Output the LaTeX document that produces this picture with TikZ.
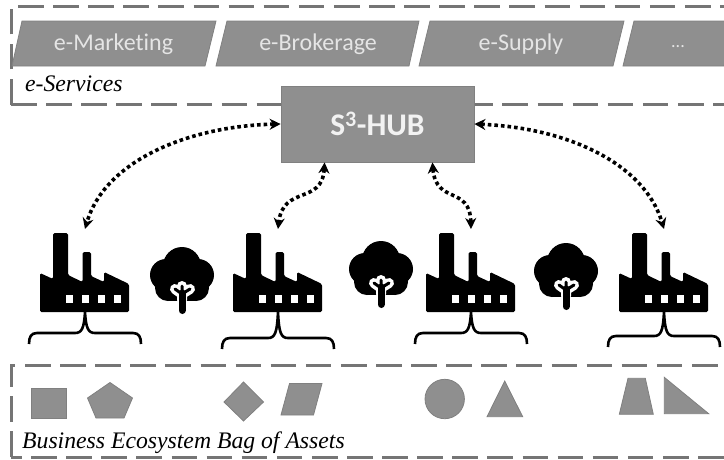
\documentclass[tikz,border=0pt]{standalone}
\usepackage{fontspec}
\setsansfont[Ligatures=NoCommon]{Carlito}
\setmainfont{Liberation Serif}
\usepackage{xcolor}
\usetikzlibrary{arrows.meta,positioning}
\definecolor{assetgray}{HTML}{8F8F8F}
\definecolor{edgegray}{HTML}{808080}
\definecolor{dashgray}{HTML}{757575}

\tikzset{
  pics/factory/.style={code={
    \fill[black, rounded corners=1.5pt] (-45,0) -- (-45,-39) -- (-32,-33) -- (-32,-79)
      -- (-17,-79) -- (-17,-37) -- (-2.5,-30) -- (-2.5,-60) -- (6,-60) -- (6,-36)
      -- (19,-30) -- (19,-40) -- (44,-28) -- (44,0) -- cycle;
    \foreach \wx in {-16,0,16,32.5}
      \fill[white] (\wx-3.5,-17.5) rectangle (\wx+3.5,-9.5);
    \coordinate (-top) at (0,-83);
    \coordinate (-base) at (0,0);
  }},
  pics/tree/.style={code={
    \fill[black] (0,-48) circle (19) (-16,-39) circle (16) (16,-39) circle (16)
      (-14,-26) circle (13) (14,-26) circle (13);
    \fill[black] (-15,-40) rectangle (15,-13);
    \draw[white, line width=10pt, line cap=round, line join=round]
      (0,-14) -- (0,-20) (-7,-25) -- (0,-20) -- (8,-25) (0,-20) -- (0,-28);
    \draw[black, line width=3pt, line cap=round, line join=round]
      (-7,-25) -- (0,-20) -- (8,-25) (0,-20) -- (0,-28);
    \draw[black, line width=7pt, line cap=round] (0,-3.5) -- (0,-21);
  }},
}

\begin{document}
\begin{tikzpicture}[
  x=1pt, y=-1pt,
  service/.style={draw=edgegray, fill=assetgray, line width=0.8pt},
  servicetext/.style={font=\sffamily\fontsize{24}{26}\selectfont, text=white!90!black, inner sep=0pt},
  region/.style={dashgray, line width=3pt, dash pattern=on 25.6pt off 9.5pt},
  caption/.style={font=\itshape\fontsize{23.7}{26}\selectfont, anchor=base west, inner sep=0pt},
  hub/.style={draw=edgegray, fill=assetgray, line width=0.8pt, minimum width=193pt,
              minimum height=76pt, inner sep=0pt, font=\sffamily\bfseries\fontsize{31.5}{33}\selectfont,
              text=white!95!black},
  link/.style={{Stealth[length=11pt,width=11pt]}-{Stealth[length=11pt,width=11pt]}, black,
               line width=3.6pt, dash pattern=on 3.6pt off 3pt},
  bracket/.style={black, line width=2.6pt},
  asset/.style={draw=edgegray, fill=assetgray, line width=0.8pt},
]
\useasboundingbox (0,0) rectangle (724,459);

% === e-Services region ===
\draw[region] (11,104.5) -- (11,9);
\draw[region] (18,6.5) -- (740,6.5);
\draw[region] (11,104.5) -- (740,104.5);

\draw[service] (22,21) -- (216,21) -- (205,66) -- (12,66) -- cycle;
\draw[service] (227,21) -- (419,21) -- (409,66) -- (216,66) -- cycle;
\draw[service] (430,21) -- (624,21) -- (613,66) -- (419,66) -- cycle;
\draw[service] (634,21) -- (735,21) -- (724,66) -- (623,66) -- cycle;
\node[servicetext] (marketing) at (113.5,44) {e-Marketing};
\node[servicetext] (brokerage) at (318,44) {e-Brokerage};
\node[servicetext] (supply) at (521,44) {e-Supply};
\node[servicetext, font=\sffamily\fontsize{18}{20}\selectfont] (more) at (678,47) {...};
\node[caption] (services) at (25,91) {e-Services};

% === Hub ===
\node[hub] (s3hub) at (377.5,124) {S\textsuperscript{3}-HUB};

% === Factories and trees ===
\foreach \name/\fx/\dy in {fac1/85/21, fac2/278/26, fac3/471/21, fac4/664/24} {
  \pic (\name) at (\fx,312) {factory};
  \draw[bracket, shift={(\fx,312)}] (-56,\dy+11) .. controls (-56,\dy+4) and (-54,\dy) .. (-48,\dy)
    -- (-10,\dy) .. controls (-3,\dy) and (-1,\dy-5) .. (0,0)
    .. controls (1,\dy-5) and (3,\dy) .. (10,\dy)
    -- (48,\dy) .. controls (54,\dy) and (56,\dy+4) .. (56,\dy+11);
}
\pic (tree1) at (182,314) {tree};
\pic (tree2) at (381,308) {tree};
\pic (tree3) at (566,310) {tree};

% === Links between hub and factories ===
\draw[link] (s3hub.west) .. controls (190,126) and (105,160) .. (fac1-top);
\draw[link] (s3hub.south west) ++(44,0) .. controls (322,205) and (283,185) .. (fac2-top);
\draw[link] (s3hub.south east) ++(-42,0) .. controls (436,205) and (470,185) .. (fac3-top);
\draw[link] (s3hub.east) .. controls (570,128) and (645,165) .. (fac4-top);

% === Business ecosystem region ===
\draw[region] (11,457) -- (11,365) -- (16,365);
\draw[region] (25,365) -- (740,365);
\draw[region, dash phase=15pt] (11,457) -- (740,457);

\draw[asset] (31,388) rectangle (66,418);
\draw[asset] (110,382.5) -- (132.5,398) -- (124,418) -- (96,418) -- (87.5,398) -- cycle;
\draw[asset] (243.5,382) -- (263.5,402) -- (243.5,421) -- (224,402) -- cycle;
\draw[asset] (289.5,383.5) -- (322,383.5) -- (313.5,415) -- (281,415) -- cycle;
\draw[asset] (444.7,399) circle (19.7);
\draw[asset] (504.7,381) -- (522.7,416.7) -- (487,416.7) -- cycle;
\draw[asset] (628,378.3) -- (645.3,378.3) -- (653.3,414.3) -- (619.3,414.3) -- cycle;
\draw[asset] (664.3,377.3) -- (708.7,413.7) -- (664.3,413.7) -- cycle;
\node[caption] (assets) at (22,448) {Business Ecosystem Bag of Assets};

\end{tikzpicture}
\end{document}
